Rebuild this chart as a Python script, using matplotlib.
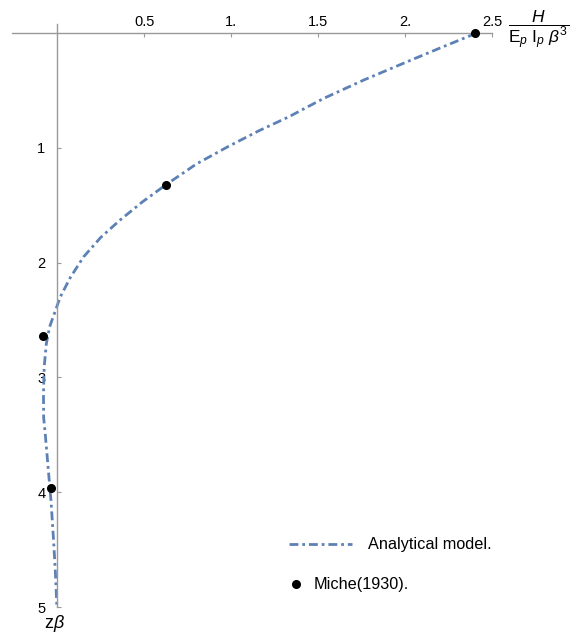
import matplotlib
matplotlib.use("Agg")
import matplotlib.pyplot as plt
from matplotlib.lines import Line2D

# analytical curve, read along the depth
z_model = [0.0, 0.13, 0.25, 0.41, 0.57, 0.73, 0.85, 0.99, 1.14, 1.32, 1.47, 1.63,
           1.78, 1.95, 2.13, 2.30, 2.42, 2.56, 2.71, 2.91, 3.14, 3.35, 3.49, 3.72,
           4.07, 4.42, 4.71, 5.0]
h_model = [2.41, 2.20, 2.01, 1.76, 1.53, 1.33, 1.16, 0.98, 0.80, 0.626, 0.49, 0.36,
           0.25, 0.151, 0.075, 0.017, -0.011, -0.044, -0.063, -0.075, -0.079, -0.078,
           -0.069, -0.056, -0.036, -0.021, -0.010, -0.002]

# Miche (1930) values
z_miche = [0.0, 1.32, 2.64, 3.96]
h_miche = [2.40, 0.626, -0.079, -0.038]

xticks = [0.5, 1.0, 1.5, 2.0, 2.5]
xticklabels = ["0.5", "1.", "1.5", "2.", "2.5"]
yticks = [1, 2, 3, 4, 5]
yticklabels = ["1", "2", "3", "4", "5"]

blue = "#5E81B5"
axis_gray = "#999999"

plt.rcParams["font.family"] = ["Liberation Sans", "DejaVu Sans"]
plt.rcParams["mathtext.fontset"] = "custom"
plt.rcParams["mathtext.rm"] = "Liberation Sans"
plt.rcParams["mathtext.it"] = "Liberation Sans:italic"

W, H = 580, 638
fig = plt.figure(figsize=(W / 100, H / 100), dpi=100)
# axes box in pixels: x from 12 to 492, y from 24 to 607
ax = fig.add_axes([12 / W, 1 - 607 / H, 480 / W, 583 / H])
ax.set_xlim(-0.26, 2.5)
ax.set_ylim(5.0, -0.08)

dash = (3.2, 1.4, 1.0, 1.4)
model_line, = ax.plot(h_model, z_model, color=blue, lw=2.0, dashes=dash, clip_on=False)
miche_pts, = ax.plot(h_miche, z_miche, "o", color="black", ms=5.5, clip_on=False, zorder=5)

# axes crossing at the origin
for side in ["right", "bottom"]:
    ax.spines[side].set_visible(False)
ax.spines["left"].set_position(("data", 0))
ax.spines["top"].set_position(("data", 0))
for side in ["left", "top"]:
    ax.spines[side].set_color(axis_gray)
    ax.spines[side].set_linewidth(1.0)

ax.xaxis.set_ticks_position("top")
ax.set_xticks(xticks)
ax.set_xticklabels(xticklabels)
ax.set_yticks(yticks)
ax.set_yticklabels(yticklabels)
ax.tick_params(axis="x", direction="in", length=3, width=0.8, color=axis_gray,
               pad=3, labelsize=10.5)
ax.tick_params(axis="y", direction="in", length=3, width=0.8, color=axis_gray,
               pad=8.5, labelsize=10.5)

fig.text(539 / W, 1 - 30 / H, r"$\dfrac{H}{\mathrm{E}_p\ \mathrm{I}_p\ \beta^3}$",
         fontsize=12.5, ha="center", va="center")
fig.text(54 / W, 1 - 623 / H, r"z$\beta$", fontsize=13, ha="center", va="center")

leg1 = ax.legend(handles=[Line2D([], [], color=blue, lw=2.0, dashes=dash)],
                 labels=["Analytical model."], loc="center left",
                 bbox_to_anchor=(289 / W, 1 - 545 / H), bbox_transform=fig.transFigure,
                 frameon=False, fontsize=11.7, handlelength=3.9, handletextpad=0.94,
                 borderpad=0, borderaxespad=0)
ax.add_artist(leg1)
ax.legend(handles=[Line2D([], [], ls="none", marker="o", color="black", ms=5.5)],
          labels=["Miche(1930)."], loc="center left",
          bbox_to_anchor=(289 / W, 1 - 585 / H), bbox_transform=fig.transFigure,
          frameon=False, fontsize=11.7, handlelength=0.8, handletextpad=0.73,
          borderpad=0, borderaxespad=0)

fig.savefig("out.png", dpi=100)
